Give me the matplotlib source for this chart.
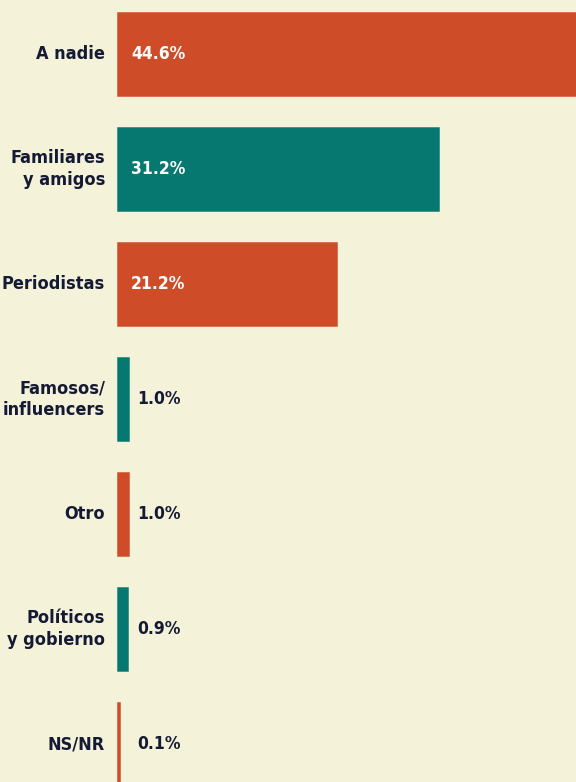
import matplotlib
matplotlib.use("Agg")
import matplotlib.pyplot as plt

categories = ["A nadie", "Familiares\ny amigos", "Periodistas", "Famosos/\ninfluencers",
              "Otro", "Políticos\ny gobierno", "NS/NR"]
values = [44.6, 31.2, 21.2, 1.0, 1.0, 0.9, 0.1]
value_labels = ["44.6%", "31.2%", "21.2%", "1.0%", "1.0%", "0.9%", "0.1%"]

ORANGE, TEAL = "#ce4c27", "#077870"
BG, INK = "#f5f2da", "#141a33"
FONT = ["DejaVu Sans"]
colors = [ORANGE if i % 2 == 0 else TEAL for i in range(len(values))]

fig = plt.figure(figsize=(5.76, 7.82), dpi=100)
fig.patch.set_facecolor(BG)
ax = fig.add_axes([0, 0, 1, 1])
ax.set_facecolor(BG)

ypos = list(range(len(values)))
ax.barh(ypos, values, height=0.72, color=colors, edgecolor=colors, linewidth=1.8)

for y, cat, v, lab in zip(ypos, categories, values, value_labels):
    ax.text(-1.26, y, cat, ha="right", va="center", fontsize=13, color=INK,
            fontweight="bold", family=FONT, stretch="condensed", linespacing=1.25)
    # big bars carry their value inside in white, small ones just past the bar
    if v > 10:
        ax.text(1.26, y, lab, ha="left", va="center", fontsize=12.5, color="white",
                fontweight="bold", family=FONT, stretch="condensed")
    else:
        ax.text(1.85, y, lab, ha="left", va="center", fontsize=12.5, color=INK,
                fontweight="bold", family=FONT, stretch="condensed")

ax.set_xlim(-11.48, 44.6)
ax.set_ylim(6.33, -0.47)
ax.axis("off")

fig.savefig("out.png", facecolor=BG)
